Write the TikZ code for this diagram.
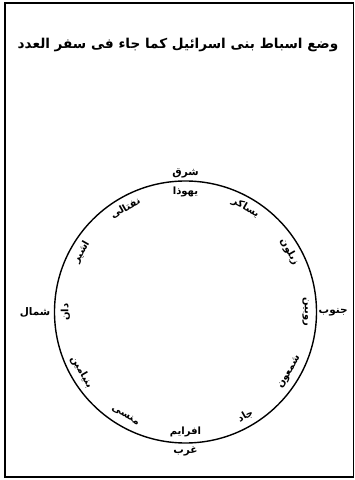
\documentclass[tikz,border=0pt]{standalone}
\usepackage{fontspec}
\usetikzlibrary{calc}
\TeXXeTstate=1
\newfontfamily\arabicfont[Script=Arabic]{DejaVu Sans}
\newcommand{\artext}[1]{\arabicfont\bfseries\beginR #1\endR}

\begin{document}
\begin{tikzpicture}[
    x=1pt, y=1pt,
    frameline/.style={line width=1.2pt, color=black},
    ring/.style={line width=1.4pt, color=black},
    tribe/.style={font=\fontsize{10}{11}\selectfont, inner sep=0pt},
    quarter/.style={font=\fontsize{10.5}{11}\selectfont, inner sep=0pt},
    heading/.style={font=\fontsize{13.6}{16}\selectfont, inner sep=0pt}
]

    % Page
    \useasboundingbox (0,0) rectangle (355,480);

    % Frame
    \draw[frameline] (5,3) rectangle (353.5,477);
    \draw[line width=2.2pt] (5,3) -- (5,477);

    % Title
    \node[heading] (title) at (178,435) {\artext{وضع اسباط بنى اسرائيل كما جاء فى سفر العدد}};

    % Camp circle
    \coordinate (O) at (185.5,168);
    \draw[ring] (O) circle (131);

    % Quarters
    \node[quarter, anchor=south] (east)  at ($(O)+(90:134)$)  {\artext{شرق}};
    \node[quarter, anchor=north] (west)  at ($(O)+(-90:134)$) {\artext{غرب}};
    \node[quarter, anchor=west]  (south) at ($(O)+(0:133)$)   {\artext{جنوب}};
    \node[quarter, anchor=east]  (north) at ($(O)+(180:135)$) {\artext{شمال}};

    % Tribes, set along the circle
    \foreach \ang/\rot/\name/\txt in {
        90/0/judah/يهوذا, 60/-30/issachar/يساكر, 30/-60/zebulun/زبلون,
        0/-90/reuben/روبين, -30/60/simeon/شمعون, -60/30/gad/جاد,
        -90/0/ephraim/افرايم, -120/-30/manasseh/منسى, -150/-60/benjamin/بنيامين,
        180/90/dan/دان, 150/60/asher/اشير, 120/30/naphtali/نفتالى}
        \node[tribe, rotate=\rot] (\name) at ($(O)+(\ang:120)$) {\artext{\txt}};

\end{tikzpicture}
\end{document}
